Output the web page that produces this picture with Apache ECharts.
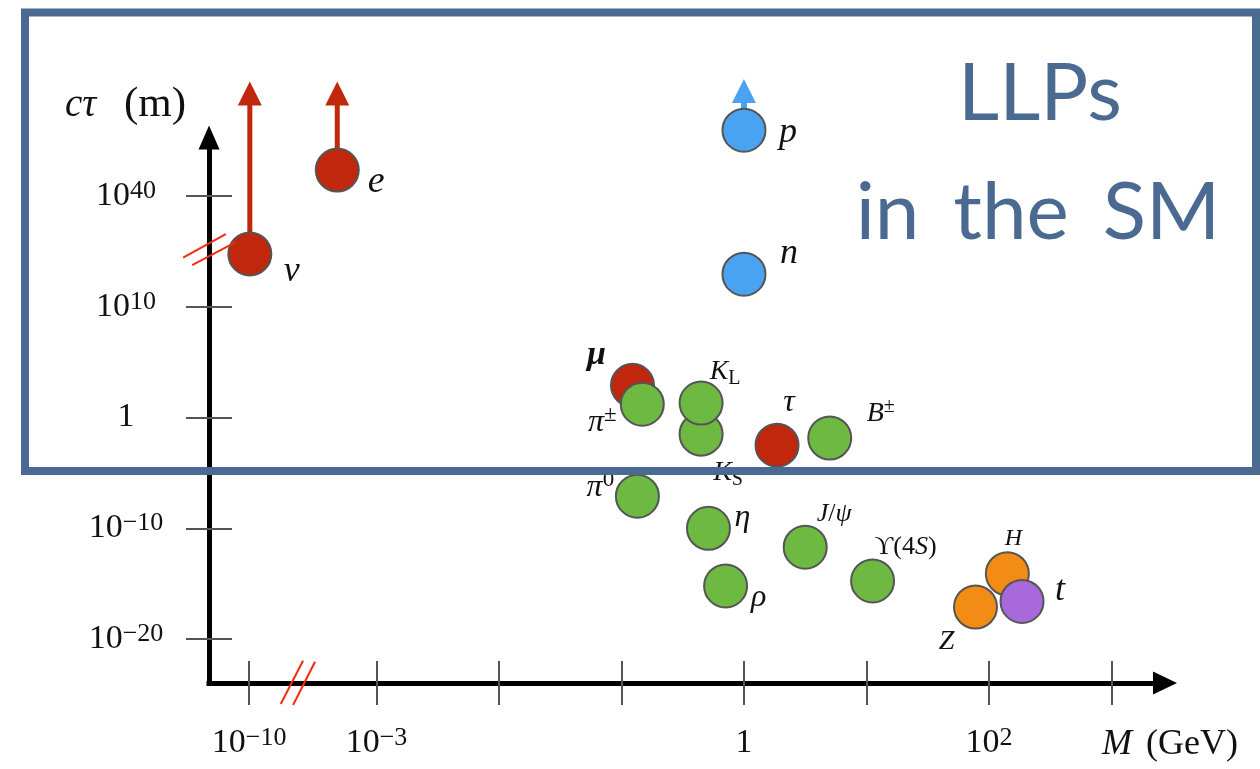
<!DOCTYPE html>
<html><head><meta charset="utf-8">
<script src="https://cdn.jsdelivr.net/npm/echarts@6/dist/echarts.min.js"></script>
<style>html,body{margin:0;padding:0;background:#fff}#c{width:1260px;height:769px}</style>
</head><body><div id="c"></div>
<script>
// ---------------- data ----------------
const particles   = ['ν', 'e', 'p', 'n', 'μ', 'π±', 'K_S', 'K_L', 'τ', 'B±', 'π0', 'η', 'J/ψ', 'ρ', 'Υ(4S)', 'Z', 'H', 't'];
const log10MassGeV = [-9.9, -3.32, 0, 0, -0.91, -0.83, -0.35, -0.35, 0.27, 0.70, -0.87, -0.29, 0.50, -0.15, 1.05, 1.89, 2.15, 2.27];
const log10CTauM   = [24.3, 47.0, 57.8, 18.8, 2.9, 1.2, -1.5, 1.3, -2.5, -1.85, -7.1, -10.0, -11.7, -15.2, -14.75, -17.1, -14.1, -16.6];
const particleKind = ['lepton', 'lepton', 'baryon', 'baryon', 'lepton', 'meson', 'meson', 'meson', 'lepton', 'meson', 'meson', 'meson', 'meson', 'meson', 'meson', 'boson', 'boson', 'quark'];
// lower-bound arrows (cτ larger than shown)
const arrowParticles = ['ν', 'e', 'p'];
const arrowTipLog10CTau = [67.7, 67.7, 68.4];
// axes
const xTickLog = [-10, -3, -2, -1, 0, 1, 2, 3];
const xLabelLog = [-10, -3, 0, 2];
const xLabelText = ['10^−10', '10^−3', '1', '10^2'];
const yTickLog = [-20, -10, 0, 10, 40];
const yLabelText = ['10^−20', '10^−10', '1', '10^10', '10^40'];
const xBreakLog = -3.64;  // broken-axis mark on M axis
const yBreakLog = 25.4;   // broken-axis mark on cτ axis

// ---------------- presentation ----------------
const SERIF = "'Liberation Serif','DejaVu Serif',serif";
const kindColor = { lepton: '#C1270C', baryon: '#4AA3F1', meson: '#6DB942', boson: '#F28C14', quark: '#A86ADB' };
// broken-axis display transforms
const fx = l => l >= -3.64 ? l : -3.64 + (l + 3.64) * 0.0629;
const fy = l => l <= 10 ? l / 10 : 1 + (l - 10) / 30;
const X_MIN = -4.367, X_MAX = 3.437, Y_MIN = -2.396, Y_MAX = 2.527;

const labelText = {
  'ν': '{i|ν}', 'e': '{i|e}', 'p': '{i|p}', 'n': '{i|n}', 'μ': '{ib|μ}', 'π±': '{i|π}{sup|±}',
  'K_S': '{i|K}{sub|S}', 'K_L': '{i|K}{sub|L}', 'τ': '{i|τ}', 'B±': '{i|B}{sup|±}', 'π0': '{i|π}{sup|0}',
  'η': '{i|η}', 'J/ψ': '{i|J}{r|/}{i|ψ}', 'ρ': '{i|ρ}', 'Υ(4S)': '{r|ϒ(4}{i|S}{r|)}', 'Z': '{i|Z}', 'H': '{i|H}', 't': '{i|t}'
};
const labelSize = {
  'ν': 36, 'e': 38, 'p': 36, 'n': 36, 'μ': 34, 'π±': 32, 'K_S': 28, 'K_L': 28, 'τ': 32, 'B±': 28, 'π0': 32,
  'η': 32, 'J/ψ': 26, 'ρ': 32, 'Υ(4S)': 26, 'Z': 28, 'H': 24, 't': 36
};
const labelOffset = {
  'ν': [42, 18], 'e': [39, 12], 'p': [44, 2], 'n': [45, -21], 'μ': [-36, -30], 'π±': [-40, 18],
  'K_S': [27, 39], 'K_L': [24, -31], 'τ': [12, -43], 'B±': [51, -24], 'π0': [-37, -9], 'η': [34, -11],
  'J/ψ': [29, -33], 'ρ': [33, 12], 'Υ(4S)': [33, -34], 'Z': [-29, 35], 'H': [6, -35], 't': [38, -11]
};
function richFor(size) {
  const base = { fontFamily: SERIF, fontSize: size, lineHeight: Math.round(size * 1.2), color: '#111' };
  return {
    i: Object.assign({}, base, { fontStyle: 'italic' }),
    ib: Object.assign({}, base, { fontStyle: 'italic', fontWeight: 'bold' }),
    r: Object.assign({}, base),
    sup: { fontFamily: SERIF, fontSize: Math.round(size * 0.72), lineHeight: Math.round(size * 0.5), verticalAlign: 'top', color: '#111' },
    sub: { fontFamily: SERIF, fontSize: Math.round(size * 0.7), lineHeight: Math.round(size * 0.72), verticalAlign: 'bottom', color: '#111' }
  };
}
const tickRich = {
  b: { fontFamily: SERIF, fontSize: 34, lineHeight: 36, color: '#111' },
  s: { fontFamily: SERIF, fontSize: 26, lineHeight: 12, verticalAlign: 'top', color: '#111' }
};
function tickFmt(txt) {
  const k = txt.indexOf('^');
  return k < 0 ? '{b|' + txt + '}' : '{b|' + txt.slice(0, k) + '}{s|' + txt.slice(k + 1) + '}';
}
function xFormatter(v) {
  const k = xLabelLog.findIndex(l => Math.abs(fx(l) - v) < 1e-6);
  return k < 0 ? '' : tickFmt(xLabelText[k]);
}
function yFormatter(v) {
  const k = yTickLog.findIndex(l => Math.abs(fy(l) - v) < 1e-6);
  return k < 0 ? '' : tickFmt(yLabelText[k]);
}

const scatterData = particles.map((name, i) => ({
  name: name,
  value: [fx(log10MassGeV[i]), fy(log10CTauM[i])],
  itemStyle: { color: kindColor[particleKind[i]] },
  label: {
    show: true, position: 'inside', offset: labelOffset[name], formatter: labelText[name],
    rich: richFor(labelSize[name]), align: 'center', verticalAlign: 'middle'
  }
}));

const arrowSeries = arrowParticles.map((name, j) => {
  const i = particles.indexOf(name);
  const col = kindColor[particleKind[i]];
  return {
    type: 'line', xAxisIndex: 0, yAxisIndex: 0, z: 1, silent: true, clip: false, animation: false,
    symbol: 'triangle', symbolSize: [24, 24],
    lineStyle: { color: col, width: name === 'p' ? 6 : 5 },
    itemStyle: { color: col, borderWidth: 0 },
    data: [
      { value: [fx(log10MassGeV[i]), fy(log10CTauM[i])], symbol: 'none' },
      { value: [fx(log10MassGeV[i]), fy(arrowTipLog10CTau[j])] }
    ]
  };
});

const xTicks = xTickLog.map(fx), xLabels = xLabelLog.map(fx), yTicks = yTickLog.map(fy);
const tickStyle = { color: '#555', width: 2 };

const chart = echarts.init(document.getElementById('c'), null, { renderer: 'canvas' });
chart.setOption({
  animation: false,
  backgroundColor: '#fff',
  grid: { left: 209, right: 95, top: 137.5, bottom: 86, containLabel: false, outerBoundsMode: 'none' },
  xAxis: [
    {
      type: 'value', position: 'bottom', min: X_MIN, max: X_MAX,
      axisLine: { show: true, onZero: false, symbol: ['none', 'triangle'], symbolSize: [23, 24], lineStyle: { color: '#000', width: 5, cap: 'square' } },
      axisTick: { show: true, customValues: xTicks, length: 22, lineStyle: tickStyle },
      axisLabel: { show: true, customValues: xLabels, formatter: xFormatter, rich: tickRich, margin: 42 },
      splitLine: { show: false }
    },
    {
      type: 'value', position: 'bottom', min: X_MIN, max: X_MAX,
      axisLine: { show: false, onZero: false },
      axisTick: { show: true, inside: true, customValues: xTicks, length: 22, lineStyle: tickStyle },
      axisLabel: { show: false }, splitLine: { show: false }
    }
  ],
  yAxis: [
    {
      type: 'value', position: 'left', min: Y_MIN, max: Y_MAX,
      axisLine: { show: true, onZero: false, symbol: ['none', 'triangle'], symbolSize: [21, 24], lineStyle: { color: '#000', width: 5, cap: 'square' } },
      axisTick: { show: true, customValues: yTicks, length: 23, lineStyle: tickStyle },
      axisLabel: { show: true, customValues: yTicks, formatter: yFormatter, rich: tickRich, margin: 83, align: 'center' },
      splitLine: { show: false }
    },
    {
      type: 'value', position: 'left', min: Y_MIN, max: Y_MAX,
      axisLine: { show: false, onZero: false },
      axisTick: { show: true, inside: true, customValues: yTicks, length: 23, lineStyle: tickStyle },
      axisLabel: { show: false }, splitLine: { show: false }
    }
  ],
  series: arrowSeries.concat([{
    type: 'scatter', xAxisIndex: 0, yAxisIndex: 0, z: 3, silent: true, clip: false,
    symbol: 'circle', symbolSize: 43,
    itemStyle: { borderColor: '#555', borderWidth: 2, opacity: 1 },
    data: scatterData
  }])
});

// decorations anchored through the axis scales
const xb = chart.convertToPixel({ gridIndex: 0 }, [fx(xBreakLog), Y_MIN]);
const yb = chart.convertToPixel({ gridIndex: 0 }, [X_MIN, fy(yBreakLog)]);
const breakStyle = { stroke: '#F52A10', lineWidth: 2 };
const seg = (cx, cy, a, b) => ({ type: 'line', z: 50, silent: true, shape: { x1: cx + a[0], y1: cy + a[1], x2: cx + b[0], y2: cy + b[1] }, style: breakStyle });
const BLUE = '#4B6A92';
const SANS = 'Lato, "Open Sans", sans-serif';
chart.setOption({
  graphic: [
    seg(xb[0], xb[1], [-17.3, 21], [5, -22.3]),
    seg(xb[0], xb[1], [-5, 22], [17, -21.3]),
    seg(yb[0], yb[1], [-25.8, 7.7], [16.8, -15.6]),
    seg(yb[0], yb[1], [-16.8, 15.4], [25.8, -7.3]),
    { type: 'text', z: 60, silent: true, left: 65, top: 86, style: { text: 'cτ', font: 'italic 39px ' + SERIF, fill: '#111' } },
    { type: 'text', z: 60, silent: true, left: 124, top: 83, style: { text: '(m)', font: '43px ' + SERIF, fill: '#111' } },
    { type: 'text', z: 60, silent: true, left: 1102, top: 727, style: { text: 'M', font: 'italic 36px ' + SERIF, fill: '#111' } },
    { type: 'text', z: 60, silent: true, left: 1146, top: 727, style: { text: '(GeV)', font: '36px ' + SERIF, fill: '#111' } },
    { type: 'rect', z: 100, silent: true, shape: { x: 25, y: 12.5, width: 1231, height: 458.5 }, style: { fill: 'none', stroke: BLUE, lineWidth: 8 } },
    { type: 'text', z: 101, silent: true, style: { text: 'LLPs', x: 1040, y: 94, font: '80px ' + SANS, fill: BLUE, align: 'center', verticalAlign: 'middle' } },
    { type: 'text', z: 101, silent: true, style: { text: 'in\u2006 the\u2006 SM', x: 1038, y: 213, font: '80px ' + SANS, fill: BLUE, align: 'center', verticalAlign: 'middle' } }
  ]
});
</script></body></html>
